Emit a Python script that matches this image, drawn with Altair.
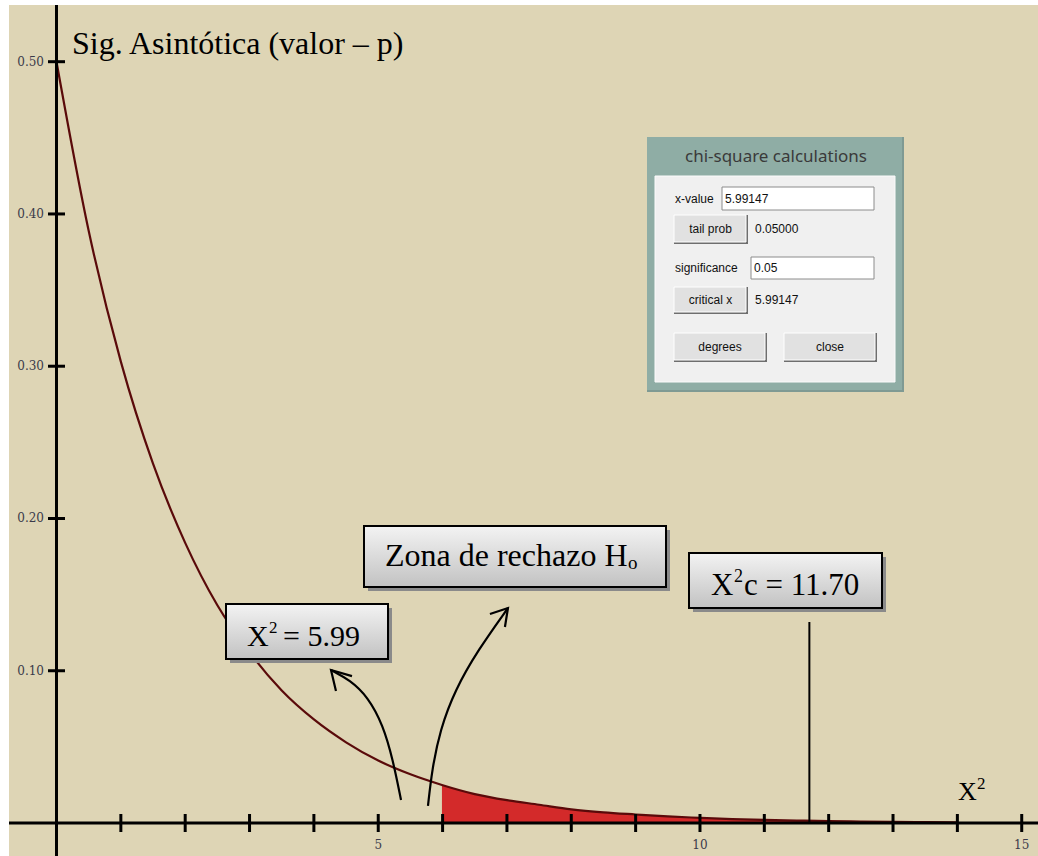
import altair as alt
import pandas as pd

# Chi-square density (2 degrees of freedom), read at half-unit steps
chi_x = [0, 0.5, 1, 1.5, 2, 2.5, 3, 3.5, 4, 4.5, 5, 5.5, 5.99, 6.5, 7, 7.5,
         8, 8.5, 9, 9.5, 10, 10.5, 11, 11.5, 12, 12.5, 13, 13.5, 14]
density = [0.500, 0.389, 0.303, 0.236, 0.184, 0.143, 0.112, 0.087, 0.068,
           0.053, 0.041, 0.032, 0.025, 0.019, 0.015, 0.012, 0.009, 0.007,
           0.0056, 0.0043, 0.0034, 0.0026, 0.0020, 0.0016, 0.0012, 0.0010,
           0.0008, 0.0006, 0.0005]

critical_table = 5.99      # start of the rejection zone
critical_calc = 11.70      # computed statistic
calc_line_top = 0.132

x_ticks = list(range(1, 16))
x_tick_labels = [5, 10, 15]
y_ticks = [0.10, 0.20, 0.30, 0.40, 0.50]

# curved arrows (x in chi-square units, y in density units)
arrow1_x = [5.354, 5.229, 5.074, 4.841, 4.561, 4.266]
arrow1_y = [0.0151, 0.0414, 0.0644, 0.0828, 0.0939, 0.1005]
arrow1_head_x = [4.592, 4.266, 4.343]
arrow1_head_y = [0.0965, 0.1005, 0.0867]
arrow2_x = [5.773, 5.835, 5.960, 6.193, 6.550, 7.016]
arrow2_y = [0.0112, 0.0348, 0.0611, 0.0874, 0.1136, 0.1412]
arrow2_head_x = [6.736, 7.016, 6.969]
arrow2_head_y = [0.1373, 0.1412, 0.1287]

W, H = 1038, 856
BEIGE = "#ded5b5"
SERIF = "Liberation Serif"
SANS = "Liberation Sans"

xs = alt.Scale(domain=[-0.878, 15.253], nice=False, zero=False)
ys = alt.Scale(domain=[-0.02167, 0.54052], nice=False, zero=False)

one = pd.DataFrame({"k": [0]})
curve = pd.DataFrame({"x": chi_x, "y": density})


def px_rect(x0, y0, x1, y1, fill, stroke=None, sw=0):
    kw = dict(fill=fill, strokeWidth=sw)
    if stroke:
        kw["stroke"] = stroke
    return alt.Chart(one).mark_rect(**kw).encode(
        x=alt.value(x0), x2=alt.value(x1), y=alt.value(y0), y2=alt.value(y1))


def px_text(x, y, text, size, font=SANS, color="#000000", align="left",
            baseline="alphabetic"):
    return alt.Chart(one).mark_text(
        text=text, fontSize=size, font=font, color=color, align=align,
        baseline=baseline).encode(x=alt.value(x), y=alt.value(y))


def label_box(x0, y0, x1, y1):
    grad = alt.Gradient(
        gradient="linear",
        stops=[alt.GradientStop(color="#f3f3f3", offset=0),
               alt.GradientStop(color="#c2c2c2", offset=1)],
        x1=0, x2=0, y1=0, y2=1)
    shadow = px_rect(x0 + 4, y0 + 4, x1 + 4, y1 + 4, "#8a8a8a")
    body = px_rect(x0, y0, x1, y1, grad, stroke="#000000", sw=2)
    return [shadow, body]


def button(x0, y0, x1, y1, text):
    return [
        px_rect(x0, y0, x1 + 1, y1 + 1, "#6e6e6e"),
        px_rect(x0, y0, x1 - 1, y1 - 1, "#e1e1e1", stroke="#ffffff", sw=1),
        px_text((x0 + x1) / 2, (y0 + y1) / 2, text, 12, align="center",
                baseline="middle", color="#111111"),
    ]


def field(x0, y0, x1, y1, text):
    return [
        px_rect(x0, y0, x1, y1, "#ffffff", stroke="#8c8c8c", sw=1),
        px_text(x0 + 3, (y0 + y1) / 2, text, 12, baseline="middle",
                color="#111111"),
    ]


layers = []

# background: beige plot surface inside a thin white margin
layers.append(px_rect(9, 5, W, H, BEIGE))

# rejection zone and density curve
layers.append(
    alt.Chart(curve).transform_filter(f"datum.x >= {critical_table}")
    .mark_area(color="#d32a2a", interpolate="monotone")
    .encode(x=alt.X("x:Q", scale=xs, axis=None),
            y=alt.Y("y:Q", scale=ys, axis=None),
            y2=alt.Y2(datum=0)))
layers.append(
    alt.Chart(curve).mark_line(color="#5a0a0a", strokeWidth=2.2,
                               interpolate="monotone")
    .encode(x=alt.X("x:Q", scale=xs, axis=None),
            y=alt.Y("y:Q", scale=ys, axis=None)))

# axes crossing at the origin
layers.append(
    alt.Chart(pd.DataFrame({"y": [0]})).mark_rule(color="#000000", strokeWidth=3)
    .encode(y=alt.Y("y:Q", scale=ys, axis=None), x=alt.value(9), x2=alt.value(W)))
layers.append(
    alt.Chart(pd.DataFrame({"x": [0]})).mark_rule(color="#000000", strokeWidth=3)
    .encode(x=alt.X("x:Q", scale=xs, axis=None), y=alt.value(5), y2=alt.value(H)))

# tick marks
layers.append(
    alt.Chart(pd.DataFrame({"x": x_ticks})).mark_rule(color="#000000", strokeWidth=3)
    .encode(x=alt.X("x:Q", scale=xs, axis=None), y=alt.value(814), y2=alt.value(832)))
layers.append(
    alt.Chart(pd.DataFrame({"y": y_ticks})).mark_rule(color="#000000", strokeWidth=3)
    .encode(y=alt.Y("y:Q", scale=ys, axis=None), x=alt.value(48), x2=alt.value(65)))

# tick labels
layers.append(
    alt.Chart(pd.DataFrame({"x": x_tick_labels})).mark_text(
        font="DejaVu Serif", fontSize=12, color="#3a3a4a", baseline="middle")
    .encode(x=alt.X("x:Q", scale=xs, axis=None), y=alt.value(845),
            text=alt.Text("x:Q")))
layers.append(
    alt.Chart(pd.DataFrame({"y": y_ticks})).mark_text(
        font="DejaVu Serif", fontSize=12, color="#3a3a4a", baseline="middle",
        align="right")
    .encode(y=alt.Y("y:Q", scale=ys, axis=None), x=alt.value(44),
            text=alt.Text("y:Q", format=".2f")))

# computed statistic marker
layers.append(
    alt.Chart(pd.DataFrame({"x": [critical_calc], "y": [0], "y2": [calc_line_top]}))
    .mark_rule(color="#000000", strokeWidth=2)
    .encode(x=alt.X("x:Q", scale=xs, axis=None),
            y=alt.Y("y:Q", scale=ys, axis=None), y2="y2:Q"))

# curved arrows
for ax, ay, hx, hy in [(arrow1_x, arrow1_y, arrow1_head_x, arrow1_head_y),
                       (arrow2_x, arrow2_y, arrow2_head_x, arrow2_head_y)]:
    body = pd.DataFrame({"x": ax, "y": ay, "o": list(range(len(ax)))})
    head = pd.DataFrame({"x": hx, "y": hy, "o": list(range(len(hx)))})
    layers.append(
        alt.Chart(body).mark_line(color="#000000", strokeWidth=2.2,
                                  interpolate="basis")
        .encode(x=alt.X("x:Q", scale=xs, axis=None),
                y=alt.Y("y:Q", scale=ys, axis=None), order="o:Q"))
    layers.append(
        alt.Chart(head).mark_line(color="#000000", strokeWidth=2.2)
        .encode(x=alt.X("x:Q", scale=xs, axis=None),
                y=alt.Y("y:Q", scale=ys, axis=None), order="o:Q"))

# labelled boxes
layers += label_box(364, 526, 666, 587)
layers.append(px_text(385, 566, "Zona de rechazo H", 32, font=SERIF))
layers.append(px_text(628, 569, "o", 19, font=SERIF))

layers += label_box(226, 604, 388, 659)
layers.append(px_text(247, 646, "X", 30, font=SERIF))
layers.append(px_text(269, 633, "2", 17, font=SERIF))
layers.append(px_text(283, 646, "= 5.99", 30, font=SERIF))

layers += label_box(689, 553, 882, 608)
layers.append(px_text(711, 595, "X", 31, font=SERIF))
layers.append(px_text(734, 582, "2", 18, font=SERIF))
layers.append(px_text(744, 595, "c = 11.70", 31, font=SERIF))

# axis titles
layers.append(px_text(72, 54, "Sig. Asintótica (valor – p)", 32, font=SERIF))
layers.append(px_text(958, 800, "X", 26, font=SERIF))
layers.append(px_text(977, 789, "2", 17, font=SERIF))

# calculator dialog
layers.append(px_rect(647, 137, 904, 392, "#7f9a93"))
layers.append(px_rect(647, 137, 902, 390, "#8fada5"))
layers.append(px_text(776, 157, "chi-square calculations", 17, font="Noto Sans",
                      color="#3a3a3a", align="center", baseline="middle"))
layers.append(px_rect(655, 176, 895, 382, "#f0f0f0", stroke="#fbfbfb", sw=1))
layers.append(px_text(675, 199, "x-value", 12, baseline="middle", color="#111111"))
layers += field(722, 187, 874, 210, "5.99147")
layers += button(674, 215, 747, 243, "tail prob")
layers.append(px_text(755, 229, "0.05000", 12, baseline="middle", color="#111111"))
layers.append(px_text(675, 268, "significance", 12, baseline="middle", color="#111111"))
layers += field(751, 257, 874, 279, "0.05")
layers += button(674, 287, 747, 313, "critical x")
layers.append(px_text(755, 300, "5.99147", 12, baseline="middle", color="#111111"))
layers += button(674, 333, 766, 361, "degrees")
layers += button(784, 333, 876, 361, "close")

chart = alt.layer(*layers).properties(
    width=W, height=H, padding=0, autosize="none", background="#ffffff"
).configure_view(stroke=None)

chart.save("out.html", embed_options={"renderer": "svg", "actions": False})
